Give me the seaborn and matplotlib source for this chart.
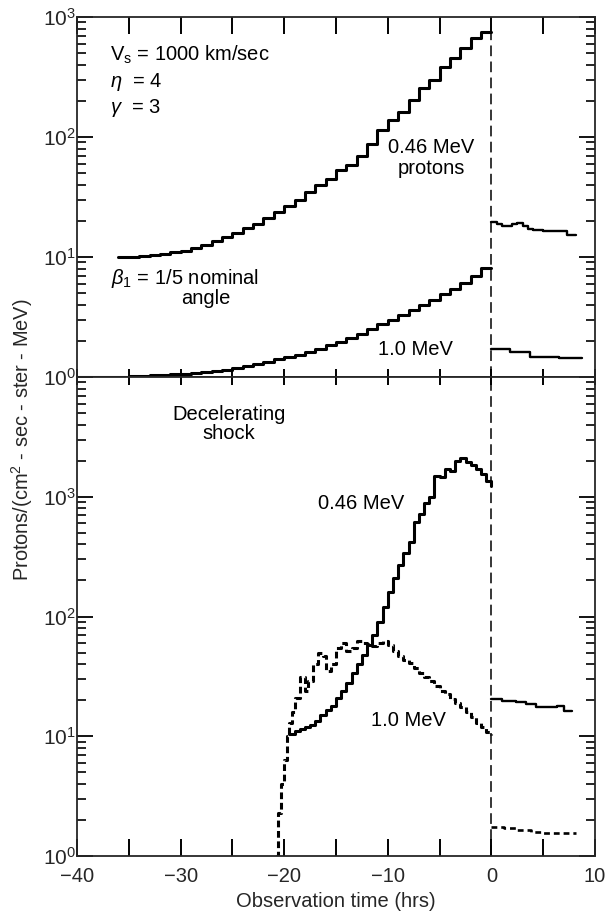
import matplotlib
matplotlib.use("Agg")
import matplotlib.pyplot as plt
import matplotlib.ticker as mticker
import seaborn as sns

# === DATA ===
# upper panel: constant speed shock, step profiles before the shock (t = 0)
top_046_time = list(range(-36, 1))
top_046_flux = [10.0, 10.0, 10.1, 10.3, 10.5, 10.9, 11.3, 11.9, 12.6, 13.5,
                14.6, 15.8, 17.3, 19.0, 21.0, 23.5, 26.5, 30.0, 34.8, 40.0,
                45.0, 53.0, 58.0, 70.0, 88.0, 114.0, 138.0, 162.0, 203.0, 256.0,
                298.0, 380.0, 455.0, 550.0, 670.0, 750.0, 750.0]
top_10_time = list(range(-40, 1))
top_10_flux = [1.0, 1.0, 1.0, 1.0, 1.0, 1.01, 1.02, 1.03, 1.04, 1.05,
               1.06, 1.08, 1.10, 1.12, 1.15, 1.19, 1.23, 1.28, 1.34, 1.40,
               1.46, 1.53, 1.61, 1.72, 1.83, 1.95, 2.1, 2.3, 2.5, 2.75,
               3.0, 3.3, 3.65, 4.0, 4.4, 4.9, 5.4, 6.1, 7.0, 8.1, 8.1]
# upper panel after the shock
top_046_post_time = [0.0, 0.5, 1.0, 1.5, 2.0, 2.5, 3.0, 3.5, 4.0, 5.0, 6.0, 7.3, 8.2]
top_046_post_flux = [19.5, 19.0, 18.2, 18.0, 18.8, 19.2, 18.0, 17.0, 16.8, 16.6, 16.5, 15.2, 15.2]
top_10_post_time = [0.0, 1.0, 1.8, 2.6, 3.7, 5.0, 6.5, 8.7]
top_10_post_flux = [1.72, 1.70, 1.62, 1.60, 1.48, 1.46, 1.44, 1.44]

# lower panel: decelerating shock
bot_046_time = [-19.5, -19.0, -18.5, -18.0, -17.5, -17.0, -16.5, -16.0, -15.5, -15.0,
                -14.5, -14.0, -13.5, -13.0, -12.5, -12.0, -11.5, -11.0, -10.5, -10.0,
                -9.5, -9.0, -8.5, -8.0, -7.5, -7.0, -6.5, -6.0, -5.5, -5.0,
                -4.5, -4.0, -3.5, -3.0, -2.5, -2.0, -1.5, -1.0, -0.5, 0.0]
bot_046_flux = [10.5, 11.0, 11.5, 12.0, 12.5, 13.5, 15.0, 16.5, 18.0, 21.0,
                24.0, 28.0, 34.0, 40.0, 48.0, 58.0, 70.0, 90.0, 120.0, 160.0,
                210.0, 270.0, 340.0, 420.0, 620.0, 720.0, 880.0, 1000.0, 1500.0, 1450.0,
                1700.0, 1650.0, 2000.0, 2100.0, 1950.0, 1850.0, 1700.0, 1550.0, 1350.0, 1230.0]
bot_10_time = [-20.8, -20.6, -20.3, -20.0, -19.7, -19.5, -19.25, -19.0, -18.5, -18.0,
               -17.75, -17.25, -16.75, -16.25, -16.0, -15.5, -15.0, -14.5, -14.0, -13.5,
               -13.0, -12.5, -12.0, -11.5, -11.0, -10.5, -10.0, -9.5, -9.0, -8.5,
               -8.0, -7.5, -7.0, -6.5, -6.0, -5.5, -5.0, -4.5, -4.0, -3.5,
               -3.0, -2.5, -2.0, -1.5, -1.0, -0.5, 0.0]
bot_10_flux = [1.0, 2.3, 4.0, 6.3, 10.0, 13.0, 16.0, 21.0, 31.0, 24.0,
               29.0, 40.0, 50.0, 47.0, 35.0, 40.0, 55.0, 60.0, 52.0, 55.0,
               62.0, 60.0, 59.0, 57.0, 60.0, 63.0, 58.0, 52.0, 47.0, 43.0,
               41.0, 37.0, 34.0, 31.0, 29.0, 26.5, 24.0, 22.5, 20.5, 19.0,
               17.5, 16.0, 14.5, 13.0, 12.0, 10.8, 10.2]
bot_046_post_time = [0.0, 1.0, 2.4, 3.3, 4.3, 5.3, 6.3, 7.0, 7.8]
bot_046_post_flux = [20.3, 19.8, 19.2, 18.5, 17.5, 17.5, 17.8, 16.2, 16.2]
bot_10_post_time = [0.0, 0.5, 1.2, 2.5, 3.8, 5.0, 6.5, 8.2]
bot_10_post_flux = [1.74, 1.74, 1.71, 1.65, 1.58, 1.55, 1.55, 1.55]

shock_time = 0.0
x_ticks = [-40, -35, -30, -25, -20, -15, -10, -5, 0, 5, 10]
x_tick_labels = ['\u221240', '', '\u221230', '', '\u221220', '', '\u221210', '', '0', '', '10']

# === STYLE ===
sns.set_style('ticks')
plt.rcParams['font.family'] = ['Liberation Sans', 'DejaVu Sans']
plt.rcParams['mathtext.fontset'] = 'custom'
plt.rcParams['mathtext.rm'] = 'Liberation Sans'
plt.rcParams['mathtext.it'] = 'Liberation Sans:italic'
plt.rcParams['mathtext.bf'] = 'Liberation Sans:bold'
plt.rcParams['axes.linewidth'] = 1.3

fig = plt.figure(figsize=(6.06, 9.13), dpi=100)
ax_top = fig.add_axes([0.127, 0.5871, 0.855, 0.3943])
ax_bot = fig.add_axes([0.127, 0.0624, 0.855, 0.5247], sharex=ax_top)


def step_line(ax, t, f, lw, ls='-'):
    sns.lineplot(x=t, y=f, ax=ax, color='black', linewidth=lw, linestyle=ls,
                 drawstyle='steps-post', estimator=None, sort=False, legend=False)


for ax in (ax_top, ax_bot):
    ax.set_yscale('log')

# upper panel curves
step_line(ax_top, top_046_time, top_046_flux, 2.2)
step_line(ax_top, top_10_time, top_10_flux, 2.2)
step_line(ax_top, top_046_post_time, top_046_post_flux, 1.7)
step_line(ax_top, top_10_post_time, top_10_post_flux, 1.7)
ax_top.vlines(shock_time, 1, top_046_flux[-1], colors='black', linewidth=1.1,
              linestyles=(0, (7, 3.5)))

# lower panel curves
step_line(ax_bot, bot_046_time, bot_046_flux, 2.2)
step_line(ax_bot, bot_10_time, bot_10_flux, 2.2, ls=(0, (2.2, 1.2)))
step_line(ax_bot, bot_046_post_time, bot_046_post_flux, 1.7)
step_line(ax_bot, bot_10_post_time, bot_10_post_flux, 1.9, ls=(0, (2.2, 1.5)))
ax_bot.axvline(shock_time, color='black', linewidth=1.1, linestyle=(0, (7, 3.5)))

# axes limits and ticks
ax_top.set_xlim(-40, 10)
ax_top.set_ylim(1, 1000)
ax_bot.set_ylim(1, 10000)

for ax in (ax_top, ax_bot):
    ax.yaxis.set_major_locator(mticker.LogLocator(base=10))
    ax.yaxis.set_minor_locator(mticker.LogLocator(base=10, subs=range(2, 10)))
    ax.yaxis.set_minor_formatter(mticker.NullFormatter())
    ax.tick_params(axis='y', which='major', direction='in', left=True, right=True,
                   length=11.5, width=1.3, color='black', labelsize=15, pad=1)
    ax.tick_params(axis='y', which='minor', direction='in', left=True, right=True,
                   length=6.5, width=1.2, color='black')
    ax.xaxis.set_minor_locator(mticker.NullLocator())
    ax.set_xlabel('')
    ax.set_ylabel('')

ax_bot.set_yticks([1, 10, 100, 1000, 10000])
ax_bot.set_yticklabels(['$\\mathdefault{10^{0}}$', '$\\mathdefault{10^{1}}$',
                        '$\\mathdefault{10^{2}}$', '$\\mathdefault{10^{3}}$', ''])
ax_bot.set_ylim(1, 10000)

ax_bot.set_xticks(x_ticks)
ax_bot.set_xticklabels(x_tick_labels)
ax_bot.tick_params(axis='x', which='major', direction='in', bottom=True, top=True,
                   length=12, width=1.4, labelsize=14.5, pad=8, color='black')
ax_top.tick_params(axis='x', which='major', direction='in', bottom=True, top=True,
                   length=12, width=1.4, labelbottom=False, labeltop=False, color='black')

# boundary between the panels: short ticks crossing the shared edge
for tick in ax_top.xaxis.get_major_ticks():
    tick.tick1line.set_markersize(6)
for tick in ax_bot.xaxis.get_major_ticks():
    tick.tick2line.set_markersize(6)

# annotations
txt = dict(fontsize=14.5, color='black')
ax_top.text(-36.8, 482, 'V$_\\mathrm{s}$ = 1000 km/sec', ha='left', va='center', **txt)
ax_top.text(-36.8, 287, '$\\eta$  = 4', ha='left', va='center', **txt)
ax_top.text(-36.8, 175, '$\\gamma$  = 3', ha='left', va='center', **txt)
ax_top.text(-5.8, 67, '0.46 MeV\nprotons', ha='center', va='center', linespacing=1.1, **txt)
ax_top.text(-36.7, 6.68, '$\\beta_1$ = 1/5 nominal', ha='left', va='center', **txt)
ax_top.text(-27.6, 4.55, 'angle', ha='center', va='center', **txt)
ax_top.text(-7.3, 1.71, '1.0 MeV', ha='center', va='center', **txt)

ax_bot.text(-25.3, 4050, 'Decelerating\nshock', ha='center', va='center', linespacing=1.05, **txt)
ax_bot.text(-12.6, 875, '0.46 MeV', ha='center', va='center', **txt)
ax_bot.text(-8.0, 13.6, '1.0 MeV', ha='center', va='center', **txt)

ax_bot.set_xlabel('Observation time (hrs)', fontsize=14.5, labelpad=4)
fig.text(0.036, 0.518, 'Protons/(cm$^2$ - sec - ster - MeV)', rotation=90,
         ha='center', va='center', fontsize=14.4)

fig.savefig('out.png', dpi=100)
